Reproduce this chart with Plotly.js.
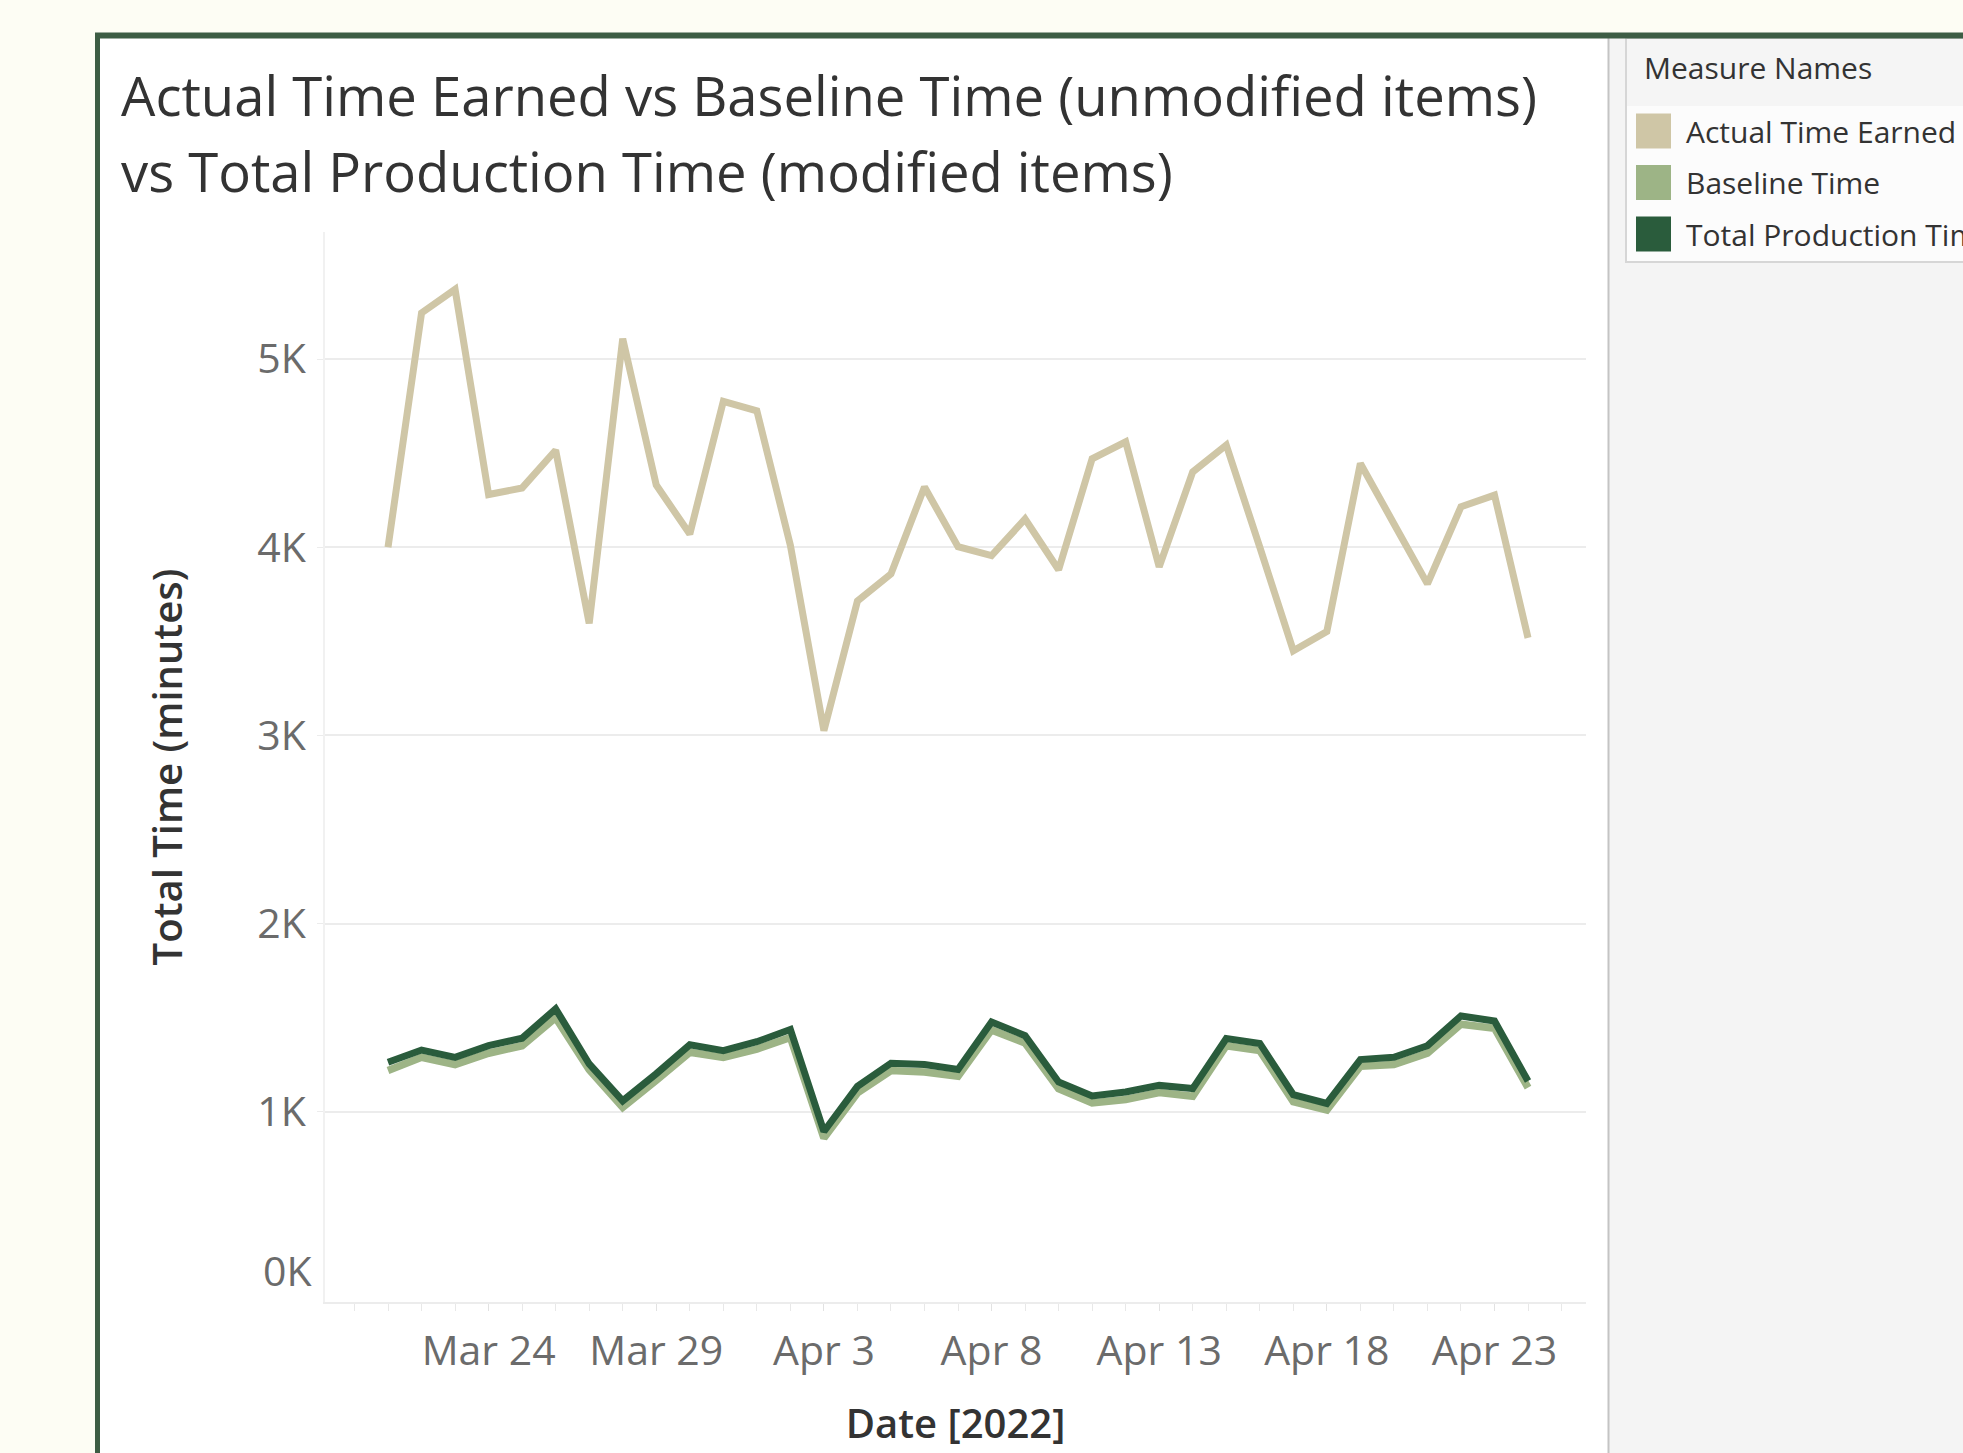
<!DOCTYPE html>
<html>
<head>
<meta charset="utf-8">
<script src="https://cdn.plot.ly/plotly-3.0.1.min.js"></script>
<style>
  html, body { margin: 0; padding: 0; background: #fdfdf4; }
  #chart { width: 1963px; height: 1453px; }
</style>
</head>
<body>
<div id="chart"></div>
<script>
// ---------------- DATA ----------------
const dates = [
  '2022-03-21','2022-03-22','2022-03-23','2022-03-24','2022-03-25','2022-03-26','2022-03-27',
  '2022-03-28','2022-03-29','2022-03-30','2022-03-31','2022-04-01','2022-04-02','2022-04-03',
  '2022-04-04','2022-04-05','2022-04-06','2022-04-07','2022-04-08','2022-04-09','2022-04-10',
  '2022-04-11','2022-04-12','2022-04-13','2022-04-14','2022-04-15','2022-04-16','2022-04-17',
  '2022-04-18','2022-04-19','2022-04-20','2022-04-21','2022-04-22','2022-04-23','2022-04-24'
];
const actualTimeEarned = [
  4000, 5245, 5370, 4280, 4315, 4515, 3595, 5108, 4330, 4070, 4775, 4725, 4010, 3025,
  3714, 3858, 4320, 4003, 3955, 4150, 3880, 4470, 4560, 3895, 4400, 4543, 4000, 3450,
  3552, 4445, 4125, 3805, 4215, 4277, 3518
];
const baselineTime = [
  1219, 1289, 1251, 1311, 1351, 1500, 1223, 1023, 1167, 1316, 1289, 1333, 1395, 860,
  1100, 1219, 1211, 1189, 1435, 1365, 1123, 1047, 1065, 1102, 1082, 1351, 1325, 1053,
  1009, 1242, 1251, 1311, 1465, 1444, 1128
];
const totalProductionTime = [
  1263, 1328, 1289, 1351, 1391, 1547, 1254, 1058, 1202, 1356, 1325, 1372, 1437, 895,
  1135, 1258, 1251, 1225, 1477, 1404, 1158, 1084, 1105, 1140, 1123, 1389, 1363, 1091,
  1044, 1277, 1289, 1351, 1509, 1482, 1163
];
const seriesNames = ['Actual Time Earned', 'Baseline Time', 'Total Production Time'];
const seriesColors = ['#cfc6a6', '#9db486', '#2a5c3c'];
const xTickVals = ['2022-03-24','2022-03-29','2022-04-03','2022-04-08','2022-04-13','2022-04-18','2022-04-23'];
const xTickText = ['Mar 24','Mar 29','Apr 3','Apr 8','Apr 13','Apr 18','Apr 23'];
const yTickVals = [0, 1000, 2000, 3000, 4000, 5000];
const yTickText = ['0K','1K','2K','3K','4K','5K'];
const titleLines = ['Actual Time Earned vs Baseline Time (unmodified items)', 'vs Total Production Time (modified items)'];
const legendTitle = 'Measure Names';
const xTitle = 'Date [2022]';
const yTitle = 'Total Time (minutes)';

// ---------------- LAYOUT HELPERS ----------------
const W = 1963, H = 1453;
const px = x => x / W;
const py = y => 1 - y / H;
const FONT = '"Open Sans", "Noto Sans", sans-serif';

const seriesValues = [actualTimeEarned, baselineTime, totalProductionTime];
const lineWidths = [7, 7.5, 7];
const traces = seriesValues.map((vals, i) => ({
  type: 'scatter',
  mode: 'lines',
  name: seriesNames[i],
  x: dates,
  y: vals,
  line: { color: seriesColors[i], width: lineWidths[i], shape: 'linear' },
  hoverinfo: 'x+y+name'
}));

const shapes = [
  // white sheet
  { type: 'rect', xref: 'paper', yref: 'paper', x0: px(100), x1: px(1608), y0: 0, y1: py(38),
    fillcolor: '#ffffff', line: { width: 0 }, layer: 'below' },
  // right gray panel
  { type: 'rect', xref: 'paper', yref: 'paper', x0: px(1609), x1: 1, y0: 0, y1: py(38),
    fillcolor: '#f4f4f4', line: { width: 0 }, layer: 'below' },
  // divider
  { type: 'line', xref: 'paper', yref: 'paper', x0: px(1608.5), x1: px(1608.5), y0: 0, y1: py(38),
    line: { color: '#c4c4c4', width: 2 }, layer: 'below' },
  // legend box
  { type: 'rect', xref: 'paper', yref: 'paper', x0: px(1626), x1: px(1990), y0: py(262), y1: py(38),
    fillcolor: '#f5f5f5', line: { color: '#d6d6d6', width: 2 }, layer: 'below' },
  { type: 'rect', xref: 'paper', yref: 'paper', x0: px(1627), x1: px(1990), y0: py(261), y1: py(106),
    fillcolor: '#fcfcfc', line: { width: 0 }, layer: 'below' },
  // green frame
  { type: 'rect', xref: 'paper', yref: 'paper', x0: px(95), x1: 1, y0: py(38.5), y1: py(32.5),
    fillcolor: '#3d5d44', line: { width: 0 }, layer: 'above' },
  { type: 'rect', xref: 'paper', yref: 'paper', x0: px(95), x1: px(100), y0: 0, y1: py(33),
    fillcolor: '#3d5d44', line: { width: 0 }, layer: 'above' }
];

const annotations = [];
// title lines
const titleY = [95, 171];
titleLines.forEach((t, i) => annotations.push({
  xref: 'paper', yref: 'paper', x: px(119), y: py(titleY[i]), xanchor: 'left', yanchor: 'middle',
  text: t, showarrow: false, font: { family: FONT, size: 54.4, color: '#333333' }
}));
// legend
annotations.push({
  xref: 'paper', yref: 'paper', x: px(1642), y: py(68), xanchor: 'left', yanchor: 'middle',
  text: legendTitle, showarrow: false, font: { family: FONT, size: 30, color: '#333333' }
});
const legendRowY = [131, 182.5, 234];
seriesNames.forEach((n, i) => {
  shapes.push({ type: 'rect', xref: 'paper', yref: 'paper', x0: px(1636), x1: px(1671),
    y0: py(legendRowY[i] + 17.5), y1: py(legendRowY[i] - 17.5),
    fillcolor: seriesColors[i], line: { width: 0 }, layer: 'above' });
  annotations.push({
    xref: 'paper', yref: 'paper', x: px(1684), y: py(legendRowY[i]), xanchor: 'left', yanchor: 'middle',
    text: n, showarrow: false, font: { family: FONT, size: 30, color: '#333333' }
  });
});
// 0K label sits above the axis baseline (Tableau style)
annotations.push({
  xref: 'paper', yref: 'y', x: px(325), y: yTickVals[0], xanchor: 'right', yanchor: 'middle',
  xshift: -11, yshift: 30, text: yTickText[0], showarrow: false,
  font: { family: FONT, size: 41, color: '#6b6b6b' }
});

const layout = {
  width: W, height: H,
  margin: { l: 0, r: 0, t: 0, b: 0 },
  paper_bgcolor: '#fdfdf4',
  plot_bgcolor: 'rgba(0,0,0,0)',
  showlegend: false,
  font: { family: FONT, color: '#666666' },
  xaxis: {
    type: 'date',
    domain: [px(325), px(1586)],
    range: ['2022-03-19 02:54', '2022-04-25 17:30'],
    tickvals: xTickVals, ticktext: xTickText,
    tickfont: { family: FONT, size: 41, color: '#6b6b6b' },
    showgrid: false, zeroline: false,
    showline: true, linecolor: '#ececec', linewidth: 2,
    ticks: 'outside', ticklen: 7, tickcolor: '#e2e2e2', tickwidth: 1,
    minor: { dtick: 86400000, ticks: 'outside', ticklen: 7, tickcolor: '#e8e8e8', tickwidth: 1, showgrid: false },
    ticklabelstandoff: 5,
    title: { text: xTitle, standoff: 34, font: { family: FONT, size: 40, color: '#333333', weight: 600 } },
    automargin: false, fixedrange: true
  },
  yaxis: {
    domain: [py(1302), py(232)],
    range: [-11, 5675],
    tickvals: yTickVals.slice(1), ticktext: yTickText.slice(1),
    tickfont: { family: FONT, size: 41, color: '#6b6b6b' },
    showgrid: true, gridcolor: '#ececec', gridwidth: 2,
    zeroline: false,
    showline: true, linecolor: '#f1f1f1', linewidth: 2,
    ticks: 'outside', ticklen: 6, tickcolor: '#ececec',
    ticklabelstandoff: 3,
    title: { text: yTitle, standoff: 62, font: { family: FONT, size: 40, color: '#333333', weight: 600 } },
    automargin: false, fixedrange: true
  },
  shapes: shapes,
  annotations: annotations
};

Plotly.newPlot('chart', traces, layout, { displayModeBar: false, staticPlot: true });
</script>
</body>
</html>
